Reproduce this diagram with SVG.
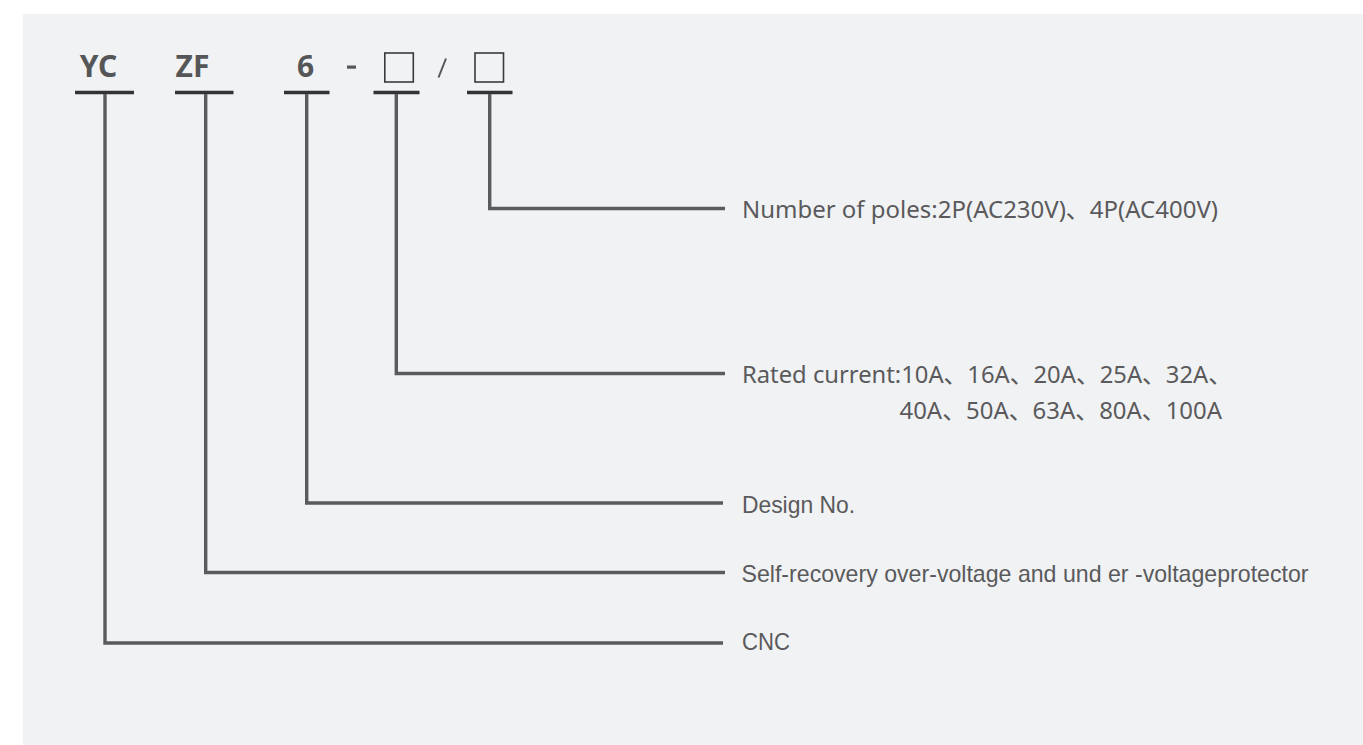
<svg xmlns="http://www.w3.org/2000/svg" width="1363" height="745" viewBox="0 0 1363 745">
<style>
.code{font-family:"Noto Sans","Open Sans",sans-serif;font-weight:bold;font-size:30px;fill:#555658}
.box{fill:none;stroke:#3a3a3c;stroke-width:1.6}
.bar{stroke:#333335;stroke-width:3.6}
.conn{fill:none;stroke:#5a5b5d;stroke-width:3.4;stroke-linejoin:miter}
.lblA{font-family:"Noto Sans","Noto Sans CJK SC",sans-serif;font-size:24px;fill:#5a5a5c}
.lblB{font-family:"Liberation Sans",Arial,sans-serif;font-size:24px;fill:#5a5a5c}
</style>
<rect x="0" y="0" width="1363" height="745" fill="#ffffff"/>
<rect x="23" y="14" width="1340" height="731" fill="#f1f2f4"/>

<g id="node-yc">
<text class="code" x="98.5" y="76.5" text-anchor="middle">YC</text>
<line class="bar" x1="75" y1="92.5" x2="134" y2="92.5"/>
</g>
<g id="node-zf">
<text class="code" x="192.5" y="76.5" text-anchor="middle">ZF</text>
<line class="bar" x1="175" y1="92.5" x2="233.5" y2="92.5"/>
</g>
<g id="node-6">
<text class="code" x="305.5" y="76.5" text-anchor="middle">6</text>
<line class="bar" x1="284" y1="92.5" x2="329.5" y2="92.5"/>
</g>
<g id="node-dash">
<rect x="347" y="65.5" width="9" height="3.2" fill="#555658"/>
</g>
<g id="node-box1">
<rect class="box" x="384.8" y="53" width="28.5" height="29"/>
<line class="bar" x1="373.5" y1="92.5" x2="419.5" y2="92.5"/>
</g>
<g id="node-slash">
<line x1="446" y1="58.5" x2="438.5" y2="77.5" stroke="#555658" stroke-width="2"/>
</g>
<g id="node-box2">
<rect class="box" x="475" y="53" width="28.5" height="29"/>
<line class="bar" x1="467" y1="92.5" x2="512.5" y2="92.5"/>
</g>

<g id="connectors">
<polyline class="conn" points="489.7,94 489.7,208.5 725,208.5"/>
<polyline class="conn" points="396.3,94 396.3,373.5 725,373.5"/>
<polyline class="conn" points="306.7,94 306.7,503 723,503"/>
<polyline class="conn" points="205.7,94 205.7,572.5 725,572.5"/>
<polyline class="conn" points="105,94 105,643 723,643"/>
</g>

<g id="label-poles">
<text class="lblA" x="742" y="217.5" textLength="476" lengthAdjust="spacingAndGlyphs">Number of poles:2P(AC230V)、4P(AC400V)</text>
</g>
<g id="label-rated">
<text class="lblA" x="742" y="383" textLength="490" lengthAdjust="spacingAndGlyphs">Rated current:10A、16A、20A、25A、32A、</text>
<text class="lblA" x="899.5" y="419" textLength="322.5" lengthAdjust="spacingAndGlyphs">40A、50A、63A、80A、100A</text>
</g>
<g id="label-design">
<text class="lblB" x="742" y="513" textLength="113" lengthAdjust="spacingAndGlyphs">Design No.</text>
</g>
<g id="label-self">
<text class="lblB" x="741.5" y="581.5" textLength="567" lengthAdjust="spacingAndGlyphs">Self-recovery over-voltage and und er -voltageprotector</text>
</g>
<g id="label-cnc">
<text class="lblB" x="742" y="650" textLength="48" lengthAdjust="spacingAndGlyphs">CNC</text>
</g>
</svg>
